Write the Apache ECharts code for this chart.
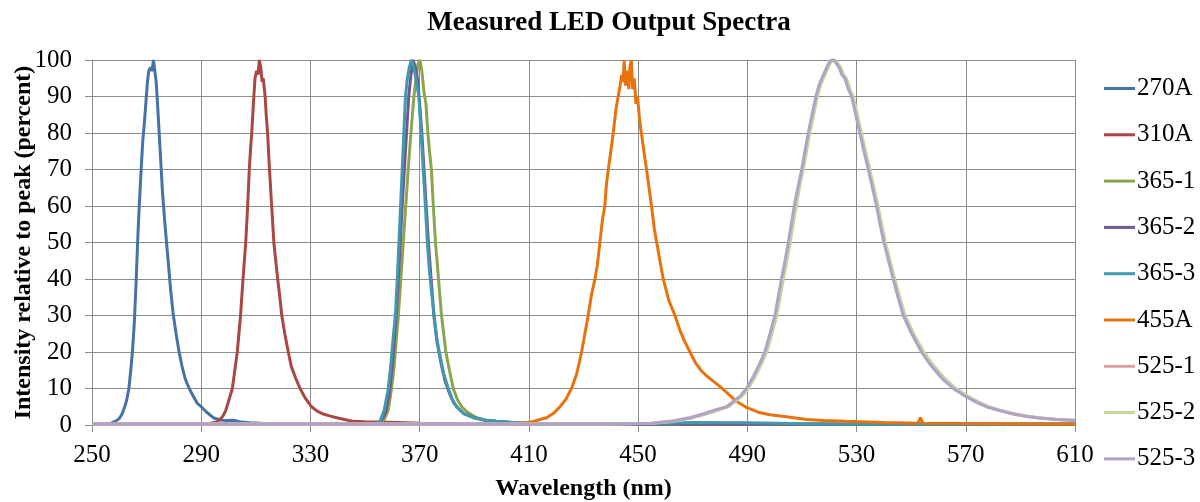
<!DOCTYPE html>
<html>
<head>
<meta charset="utf-8">
<script src="https://cdn.jsdelivr.net/npm/echarts@6/dist/echarts.min.js"></script>
<style>
  html, body { margin: 0; padding: 0; background: #fff; }
  #chart { width: 1200px; height: 502px; }
</style>
</head>
<body>
<div id="chart"></div>
<script>
// wavelength (nm) / intensity (% of peak)
const wl270A = [250, 255, 257, 258.5, 260, 261, 262, 262.7, 263.5, 264.2, 264.8, 265.5, 266.2, 266.7, 267.3, 268, 268.6, 269.1, 269.7, 270.3, 270.8, 271.4, 272, 272.5, 273, 273.5, 274, 274.6, 275.2, 275.8, 276.5, 277.3, 278, 278.8, 279.8, 280.8, 281.9, 283, 284.2, 285.6, 287, 288.5, 290, 292, 294.4, 297, 299, 301.7, 304, 307.8, 312, 320, 340, 400, 500, 610];
const in270A = [0.3, 0.3, 0.5, 1.0, 1.8, 3.0, 5.0, 6.8, 10, 15, 20, 28, 40, 50, 60, 70, 78, 82, 88, 94, 97, 98, 97, 100, 97, 94, 88, 80, 72, 64, 57, 50, 44, 37, 30, 25, 20, 16, 12.5, 10, 8, 6, 5, 3.5, 2, 1.4, 1.2, 1.3, 0.9, 0.6, 0.5, 0.4, 0.3, 0.2, 0.2, 0.2];

const wl310A = [250, 290, 293, 294.4, 296, 297, 298, 299, 300, 301.4, 302.3, 303.2, 303.8, 304.4, 305.3, 306.3, 307, 307.6, 308.1, 308.5, 309.1, 309.7, 310.3, 310.8, 311.3, 311.8, 312.3, 312.7, 313.4, 313.8, 314.3, 315, 315.8, 316.6, 317.3, 318, 318.8, 319.5, 320.6, 321.9, 323, 324.5, 326.2, 328, 330.4, 332.5, 334.7, 337, 339.6, 342.5, 345.6, 350, 355, 362, 370, 400, 500, 610];
const in310A = [0.3, 0.3, 0.4, 0.6, 1.0, 1.6, 2.5, 4, 6.5, 10, 15, 20, 25, 30, 40, 50, 60, 70, 76, 80, 88, 95, 97, 96, 100, 98, 94, 95, 90, 85, 80, 70, 60, 50, 45, 40, 35, 30, 25, 20, 16, 13, 10, 7.5, 5, 3.8, 3, 2.5, 2, 1.5, 1, 0.9, 0.8, 0.7, 0.5, 0.3, 0.2, 0.2];

const wl365_1 = [250, 350, 355, 357, 358.5, 359.7, 360.5, 361.3, 362.2, 363.1, 364, 364.9, 365.8, 366.8, 367.9, 368.7, 369.4, 370.1, 370.8, 371.6, 372.3, 373, 373.6, 374.3, 375, 375.8, 376.9, 378, 378.8, 379.6, 380.9, 382.3, 383.8, 385.4, 387.5, 390.9, 394, 398, 405, 420, 500, 610];
const in365_1 = [0.2, 0.2, 0.4, 1.5, 4, 10, 15, 22, 30, 40, 50, 60, 70, 80, 90, 95, 99, 100, 97, 91, 88, 80, 75, 70, 60, 50, 40, 30, 25, 20, 15, 10, 7, 5, 3.5, 2, 1.4, 1, 0.6, 0.3, 0.2, 0.2];

const wl365_2 = [250, 350, 354, 356, 357.5, 358.8, 359.8, 360.6, 361.4, 362.2, 362.9, 363.6, 364.4, 365.2, 366, 366.8, 367.6, 368.4, 369.2, 370, 370.8, 371.6, 372.4, 373.2, 374.2, 375.2, 376.3, 377.8, 379.3, 381, 382.5, 384.2, 386.5, 390, 394, 398, 405, 420, 500, 610];
const in365_2 = [0.2, 0.2, 0.4, 1.2, 3.5, 8, 15, 22, 30, 40, 50, 60, 70, 80, 90, 96, 100, 98, 95, 88, 80, 70, 60, 50, 40, 30, 23, 17, 12, 8.5, 6, 4.5, 3, 2, 1.3, 1, 0.6, 0.3, 0.2, 0.2];

const wl365_3 = [250, 350, 354, 355.5, 357, 358.5, 359.5, 360.3, 361.1, 361.8, 362.4, 363, 363.6, 364.2, 364.8, 365.5, 366.2, 367, 367.8, 368.6, 369.7, 370.5, 371.3, 372.1, 372.8, 373.6, 374.4, 375.3, 376.2, 377.2, 378.8, 380.5, 382, 383.5, 386, 389.6, 394, 398, 405, 420, 450, 470, 490, 505, 520, 610];
const in365_3 = [0.2, 0.2, 0.4, 1.0, 4, 10, 17, 24, 30, 40, 50, 60, 70, 80, 90, 95, 98, 100, 98, 95, 90, 80, 70, 60, 50, 42, 36, 30, 24, 20, 14, 10, 7, 5, 3.2, 2, 1.3, 1, 0.6, 0.3, 0.3, 0.7, 0.6, 0.4, 0.2, 0.2];

const wl455A = [250, 400, 408, 411.6, 414, 416.5, 419, 421.4, 423.5, 425.6, 427.5, 429.3, 430.5, 431.7, 433, 434.2, 435.1, 436, 436.9, 437.8, 438.4, 439.1, 440, 440.9, 441.8, 442.7, 443.4, 444, 444.5, 444.9, 445.4, 446, 446.6, 447, 447.5, 448, 448.6, 449.2, 449.8, 450.5, 451.2, 452.1, 453.1, 454, 454.9, 455.9, 456.8, 458, 459.2, 461.3, 463.5, 465.3, 467, 469, 471, 473, 475, 477.5, 480, 483, 486, 489.7, 494, 498.3, 505, 511.7, 518, 526, 540, 552.5, 553.4, 554.3, 570, 590, 610];
const in455A = [0.2, 0.3, 0.5, 1.0, 1.5, 2, 3.2, 5, 7, 10, 14, 20, 25, 30, 36, 40, 44, 50, 56, 60, 66, 70, 75, 80, 86, 90, 93, 96, 94, 100, 93, 97, 92, 98, 100, 92, 95, 88, 90, 84, 80, 75, 70, 65, 60, 54, 50, 45, 40, 34, 30, 26, 23, 20, 17, 15, 13.5, 12, 10.5, 8.5, 6.5, 4.8, 3.5, 2.8, 2.2, 1.5, 1.2, 1, 0.7, 0.5, 2, 0.5, 0.4, 0.3, 0.2];

const wl525_1 = [250, 440, 455, 462, 469, 473, 477, 480, 482.6, 485.2, 487.7, 489.9, 492.2, 494.5, 496.6, 498.5, 500.3, 501.5, 502.7, 504, 505.2, 506.3, 507.4, 508.7, 510.1, 511.3, 512.5, 513.9, 515.3, 516.4, 517.5, 518.7, 519.9, 521, 521.9, 522.8, 523.8, 524.8, 525.9, 527.2, 528.4, 529.9, 531.4, 532.9, 534.5, 536, 537.5, 538.8, 540.2, 541.9, 543.6, 545.4, 547.3, 550.4, 554, 557.2, 561.2, 565.6, 570.2, 574.2, 577.8, 582.2, 587.6, 592.2, 596.2, 603, 610];
const in525_1 = [0.3, 0.3, 0.5, 1.0, 2, 2.8, 3.8, 4.5, 5, 6.5, 8, 10, 13, 16.5, 20, 25, 30, 35, 40, 45, 50, 55, 60, 65, 70, 75, 80, 85, 90, 93, 95, 97, 99, 100, 100, 99, 98, 96, 95, 92, 90, 85, 80, 75, 70, 65, 60, 55, 50, 45, 40, 35, 30, 25, 20, 16.5, 13, 10, 7.8, 6.2, 5, 4, 3, 2.4, 2, 1.5, 1.2];

const wl525_2 = [250, 440, 455, 462, 469, 473, 477, 480, 483.1, 485.7, 488.2, 490.4, 492.7, 495, 497.1, 499, 500.8, 502, 503.2, 504.5, 505.7, 506.8, 507.9, 509.1, 510.5, 511.7, 512.9, 514.3, 515.7, 516.8, 517.9, 519.1, 520.3, 521.4, 522.3, 523.2, 524.2, 525.2, 526.3, 527.6, 528.8, 530.3, 531.8, 533.3, 534.9, 536.4, 537.9, 539.2, 540.6, 542.3, 544, 545.8, 547.8, 550.9, 554.6, 558, 562, 566.4, 571, 575, 578.6, 583, 588.4, 593, 597, 603, 610];
const in525_2 = [0.3, 0.3, 0.5, 0.9, 1.8, 2.6, 3.5, 4.2, 5, 6.5, 8, 10, 13, 16.5, 20, 25, 30, 35, 40, 45, 50, 55, 60, 65, 70, 75, 80, 85, 90, 93, 95, 97, 99, 100, 100, 99, 98, 96, 95, 92, 90, 85, 80, 75, 70, 65, 60, 55, 50, 45, 40, 35, 30, 25, 20, 16.5, 13, 10, 7.8, 6.2, 5, 4, 3, 2.4, 2, 1.6, 1.3];

const wl525_3 = [250, 440, 455, 462, 469, 473, 477, 480, 482.4, 485, 487.5, 489.7, 492, 494.3, 496.4, 498.3, 500.1, 501.3, 502.5, 503.8, 505, 506.1, 507.2, 508.5, 509.9, 511.1, 512.3, 513.7, 515.1, 516.2, 517.3, 518.5, 519.7, 520.8, 521.7, 522.6, 523.6, 524.6, 525.7, 527, 528.2, 529.7, 531.2, 532.7, 534.3, 535.8, 537.3, 538.6, 540, 541.7, 543.4, 545.2, 547.1, 550.2, 553.8, 557, 561, 565.4, 570, 574, 577.6, 582, 587.4, 592, 596, 603, 610];
const in525_3 = [0.3, 0.3, 0.5, 1.0, 2, 2.8, 3.8, 4.5, 5, 6.5, 8, 10, 13, 16.5, 20, 25, 30, 35, 40, 45, 50, 55, 60, 65, 70, 75, 80, 85, 90, 93, 95, 97, 99, 100, 100, 99, 98, 96, 95, 92, 90, 85, 80, 75, 70, 65, 60, 55, 50, 45, 40, 35, 30, 25, 20, 16.5, 13, 10, 7.8, 6.2, 5, 4, 3, 2.4, 2, 1.5, 1.2];

const seriesNames = ["270A", "310A", "365-1", "365-2", "365-3", "455A", "525-1", "525-2", "525-3"];
const seriesColors = ["#4572A7", "#AA4643", "#89A54E", "#71588F", "#4198AF", "#E8720C", "#D9A3A1", "#C3D69B", "#B3A2C7"];
const seriesWl = [wl270A, wl310A, wl365_1, wl365_2, wl365_3, wl455A, wl525_1, wl525_2, wl525_3];
const seriesIn = [in270A, in310A, in365_1, in365_2, in365_3, in455A, in525_1, in525_2, in525_3];

const font = "'Liberation Serif', 'Times New Roman', serif";
const gridColor = "#8c8c8c";

const chart = echarts.init(document.getElementById("chart"));

const series = seriesNames.map((name, i) => ({
  name: name,
  type: "line",
  showSymbol: false,
  symbol: "none",
  data: seriesWl[i].map((x, j) => [x, seriesIn[i][j]]),
  lineStyle: { width: 3, color: seriesColors[i] },
  itemStyle: { color: seriesColors[i] },
  z: 2 + i,
}));

chart.setOption({
  animation: false,
  backgroundColor: "#fff",
  title: {
    text: "Measured LED Output Spectra",
    left: 604,
    textAlign: "center",
    top: 5,
    textStyle: { fontFamily: font, fontSize: 27, fontWeight: "bold", color: "#000" },
  },
  legend: {
    orient: "vertical",
    left: 1099,
    top: 71,
    icon: "rect",
    itemWidth: 31,
    itemHeight: 3,
    itemGap: 21.3,
    textStyle: { fontFamily: font, fontSize: 25, color: "#000", lineHeight: 25, padding: [0, 0, 0, -3] },
    data: seriesNames,
  },
  grid: { left: 92, right: 125, top: 60, bottom: 77, containLabel: false, outerBoundsMode: "none" },
  xAxis: {
    type: "value",
    min: 250,
    max: 610,
    interval: 40,
    name: "Wavelength (nm)",
    nameLocation: "middle",
    nameGap: 52,
    nameTextStyle: { fontFamily: font, fontSize: 24, fontWeight: "bold", color: "#000" },
    axisLine: { lineStyle: { color: gridColor, width: 1 } },
    axisTick: { show: true, length: 7, lineStyle: { color: gridColor } },
    axisLabel: { fontFamily: font, fontSize: 25, color: "#000", margin: 18 },
    splitLine: { show: true, lineStyle: { color: gridColor, width: 1 } },
  },
  yAxis: {
    type: "value",
    min: 0,
    max: 100,
    interval: 10,
    name: "Intensity relative to peak (percent)",
    nameLocation: "middle",
    nameGap: 56,
    nameTextStyle: { fontFamily: font, fontSize: 24, fontWeight: "bold", color: "#000" },
    nameMoveOverlap: false,
    axisLine: { show: true, lineStyle: { color: gridColor, width: 1 } },
    axisTick: { show: true, length: 7, lineStyle: { color: gridColor } },
    axisLabel: { fontFamily: font, fontSize: 25, color: "#000", margin: 20 },
    splitLine: { show: true, lineStyle: { color: gridColor, width: 1 } },
  },
  series: series,
});
</script>
</body>
</html>
